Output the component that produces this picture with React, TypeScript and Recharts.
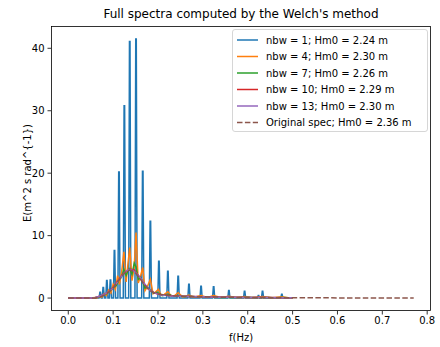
import React from "react";
import { LineChart, Line, XAxis, YAxis } from "recharts";

type P = { f: number; E: number };
const toPts = (a: number[][]): P[] => a.map(([f, E]) => ({ f, E }));

// nbw = 1 : raw periodogram spikes [f, E]
const nbw1Spikes: number[][] = [
  [0.071, 0.95], [0.078, 1.7], [0.086, 2.8], [0.094, 2.9], [0.103, 7.6],
  [0.113, 20.2], [0.125, 30.8], [0.137, 41.1], [0.151, 41.5], [0.166, 20.3],
  [0.183, 12.3], [0.202, 5.9], [0.222, 4.3], [0.245, 3.5], [0.269, 2.2],
  [0.296, 1.9], [0.324, 1.8], [0.358, 1.2], [0.393, 1.1], [0.424, 0.4],
  [0.433, 1.1], [0.476, 0.6],
];
const nbw1Raw: number[][] = [[0, 0], [0.065, 0]];
nbw1Spikes.forEach(([f, e]) => {
  nbw1Raw.push([f - 0.0024, 0], [f - 0.0006, e], [f + 0.0006, e], [f + 0.0024, 0]);
});
nbw1Raw.push([0.5, 0]);

const nbw4: number[][] = [
  [0, 0], [0.05, 0.02], [0.06, 0.1], [0.065, 0.05], [0.07, 0.3], [0.075, 0.15],
  [0.08, 0.7], [0.085, 0.4], [0.09, 1.3], [0.095, 0.8], [0.1, 2.2], [0.105, 1.4],
  [0.11, 3.6], [0.114, 2.2], [0.119, 4.2], [0.124, 7.4], [0.129, 2.6], [0.133, 5.5],
  [0.137, 8.1], [0.142, 2.8], [0.147, 5.0], [0.151, 10.5], [0.156, 2.4], [0.161, 3.5],
  [0.166, 4.9], [0.171, 1.2], [0.176, 1.8], [0.183, 3.0], [0.189, 0.7], [0.195, 1.0],
  [0.201, 1.4], [0.207, 0.4], [0.214, 0.6], [0.222, 1.0], [0.23, 0.3], [0.237, 0.4],
  [0.245, 0.85], [0.255, 0.2], [0.262, 0.3], [0.269, 0.5], [0.28, 0.15], [0.296, 0.4],
  [0.31, 0.1], [0.324, 0.4], [0.34, 0.1], [0.358, 0.3], [0.375, 0.08], [0.393, 0.25],
  [0.41, 0.05], [0.433, 0.25], [0.455, 0.05], [0.476, 0.2], [0.49, 0.05], [0.5, 0.03],
];

const nbw7: number[][] = [
  [0, 0], [0.05, 0.02], [0.06, 0.05], [0.07, 0.2], [0.08, 0.5], [0.09, 0.9],
  [0.1, 1.6], [0.107, 2.0], [0.113, 2.9], [0.119, 3.4], [0.124, 4.6], [0.129, 3.6],
  [0.133, 4.4], [0.137, 4.7], [0.142, 3.8], [0.147, 5.6], [0.151, 5.0], [0.156, 3.0],
  [0.161, 3.3], [0.166, 2.6], [0.171, 1.6], [0.176, 1.8], [0.183, 1.3], [0.19, 0.8],
  [0.196, 0.9], [0.202, 0.8], [0.21, 0.4], [0.222, 0.6], [0.235, 0.3], [0.245, 0.4],
  [0.26, 0.2], [0.27, 0.3], [0.29, 0.15], [0.3, 0.2], [0.32, 0.15], [0.34, 0.1],
  [0.36, 0.15], [0.38, 0.08], [0.4, 0.12], [0.42, 0.06], [0.44, 0.1], [0.46, 0.05],
  [0.48, 0.08], [0.5, 0.03],
];

const nbw10: number[][] = [
  [0, 0], [0.05, 0.02], [0.06, 0.07], [0.07, 0.3], [0.08, 0.6], [0.09, 1.0],
  [0.1, 1.7], [0.11, 2.7], [0.12, 3.7], [0.127, 4.2], [0.133, 4.4], [0.14, 4.6],
  [0.147, 4.5], [0.153, 3.9], [0.16, 3.3], [0.17, 2.2], [0.18, 1.4], [0.19, 0.9],
  [0.2, 0.65], [0.21, 0.5], [0.22, 0.45], [0.235, 0.35], [0.25, 0.3], [0.27, 0.25],
  [0.3, 0.2], [0.33, 0.16], [0.36, 0.13], [0.4, 0.1], [0.44, 0.08], [0.48, 0.06],
  [0.5, 0.05],
];

const nbw13: number[][] = [
  [0, 0], [0.05, 0.02], [0.06, 0.08], [0.07, 0.3], [0.08, 0.6], [0.09, 1.0],
  [0.1, 1.6], [0.11, 2.6], [0.12, 3.6], [0.13, 4.4], [0.137, 4.6], [0.145, 4.4],
  [0.15, 4.1], [0.16, 3.3], [0.17, 2.3], [0.18, 1.4], [0.19, 0.9], [0.2, 0.6],
  [0.21, 0.45], [0.22, 0.4], [0.23, 0.35], [0.25, 0.3], [0.27, 0.25], [0.3, 0.2],
  [0.33, 0.15], [0.36, 0.12], [0.4, 0.1], [0.44, 0.08], [0.48, 0.06], [0.5, 0.05],
];

const original: number[][] = [
  [0, 0], [0.05, 0], [0.06, 0.03], [0.07, 0.15], [0.08, 0.45], [0.09, 0.95],
  [0.1, 1.6], [0.11, 2.6], [0.12, 3.6], [0.13, 4.3], [0.137, 4.5], [0.145, 4.3],
  [0.15, 4.0], [0.16, 3.1], [0.17, 2.1], [0.18, 1.3], [0.19, 0.9], [0.2, 0.65],
  [0.22, 0.45], [0.24, 0.35], [0.26, 0.28], [0.3, 0.2], [0.35, 0.13], [0.4, 0.09],
  [0.45, 0.07], [0.5, 0.05], [0.55, 0.04], [0.6, 0.03], [0.65, 0.02], [0.7, 0.02],
  [0.77, 0.01],
];

const xTicks = [0, 0.1, 0.2, 0.3, 0.4, 0.5, 0.6, 0.7, 0.8];
const yTicks = [0, 10, 20, 30, 40];

const series = [
  { name: "nbw = 1; Hm0 = 2.24 m", color: "#1f77b4", data: toPts(nbw1Raw), dash: undefined },
  { name: "nbw = 4; Hm0 = 2.30 m", color: "#ff7f0e", data: toPts(nbw4), dash: undefined },
  { name: "nbw = 7; Hm0 = 2.26 m", color: "#2ca02c", data: toPts(nbw7), dash: undefined },
  { name: "nbw = 10; Hm0 = 2.29 m", color: "#d62728", data: toPts(nbw10), dash: undefined },
  { name: "nbw = 13; Hm0 = 2.30 m", color: "#9467bd", data: toPts(nbw13), dash: undefined },
  { name: "Original spec; Hm0 = 2.36 m", color: "#8c564b", data: toPts(original), dash: "5.5 2.4" },
];

const FONT = "DejaVu Sans, sans-serif";

export default function App() {
  const L = 51, T = 26, R = 431, B = 311;
  return (
    <div style={{ position: "absolute", left: 0, top: 0, width: 440, height: 347, background: "#fff" }}>
      <LineChart
        width={440}
        height={347}
        margin={{ top: T, right: 440 - R, bottom: 0, left: 0 }}
        style={{ fontFamily: FONT }}
      >
        <XAxis
          type="number"
          dataKey="f"
          domain={[-0.0385, 0.8085]}
          allowDataOverflow
          ticks={xTicks}
          tickFormatter={(v: number) => v.toFixed(1)}
          axisLine={false}
          tickLine={{ stroke: "#000", strokeWidth: 0.8 }}
          tickSize={3.5}
          tickMargin={2}
          height={347 - B}
          tick={{ fill: "#000", fontSize: 10, fontFamily: FONT }}
        />
        <YAxis
          type="number"
          dataKey="E"
          domain={[-2.07, 43.57]}
          allowDataOverflow
          ticks={yTicks}
          axisLine={false}
          tickLine={{ stroke: "#000", strokeWidth: 0.8 }}
          tickSize={3.5}
          tickMargin={3}
          width={L}
          tick={{ fill: "#000", fontSize: 10, fontFamily: FONT }}
        />
        {series.map((s) => (
          <Line
            key={s.name}
            data={s.data}
            dataKey="E"
            name={s.name}
            type="linear"
            stroke={s.color}
            strokeWidth={1.5}
            strokeDasharray={s.dash}
            dot={false}
            activeDot={false}
            isAnimationActive={false}
          />
        ))}
      </LineChart>
      <svg
        width={440}
        height={347}
        style={{ position: "absolute", left: 0, top: 0, pointerEvents: "none" }}
      >
        <rect x={L + 0.5} y={T + 0.5} width={R - L - 1} height={B - T - 1} fill="none" stroke="#000" strokeWidth={0.8} />
        <text x={(L + R) / 2} y={18} textAnchor="middle" fontSize={12} fontFamily={FONT} fill="#000">
          Full spectra computed by the Welch's method
        </text>
        <text x={(L + R) / 2} y={341} textAnchor="middle" fontSize={10} fontFamily={FONT} fill="#000">
          f(Hz)
        </text>
        <text
          x={0}
          y={0}
          transform={`translate(31, 173) rotate(-90)`}
          textAnchor="middle"
          fontSize={10}
          fontFamily={FONT}
          fill="#000"
        >
          E(m^2 s rad^{"{-1}"})
        </text>
        <rect x={232.5} y={29.5} width={195} height={102} rx={2.5} fill="#fff" fillOpacity={0.8} stroke="#cccccc" strokeWidth={0.8} />
        {series.map((s, i) => {
          const cy = 40 + i * 16.5;
          return (
            <g key={s.name}>
              <line x1={237} x2={258} y1={cy} y2={cy} stroke={s.color} strokeWidth={1.5} strokeDasharray={s.dash} />
              <text x={266} y={cy + 3.6} fontSize={10} fontFamily={FONT} fill="#000">
                {s.name}
              </text>
            </g>
          );
        })}
      </svg>
    </div>
  );
}
